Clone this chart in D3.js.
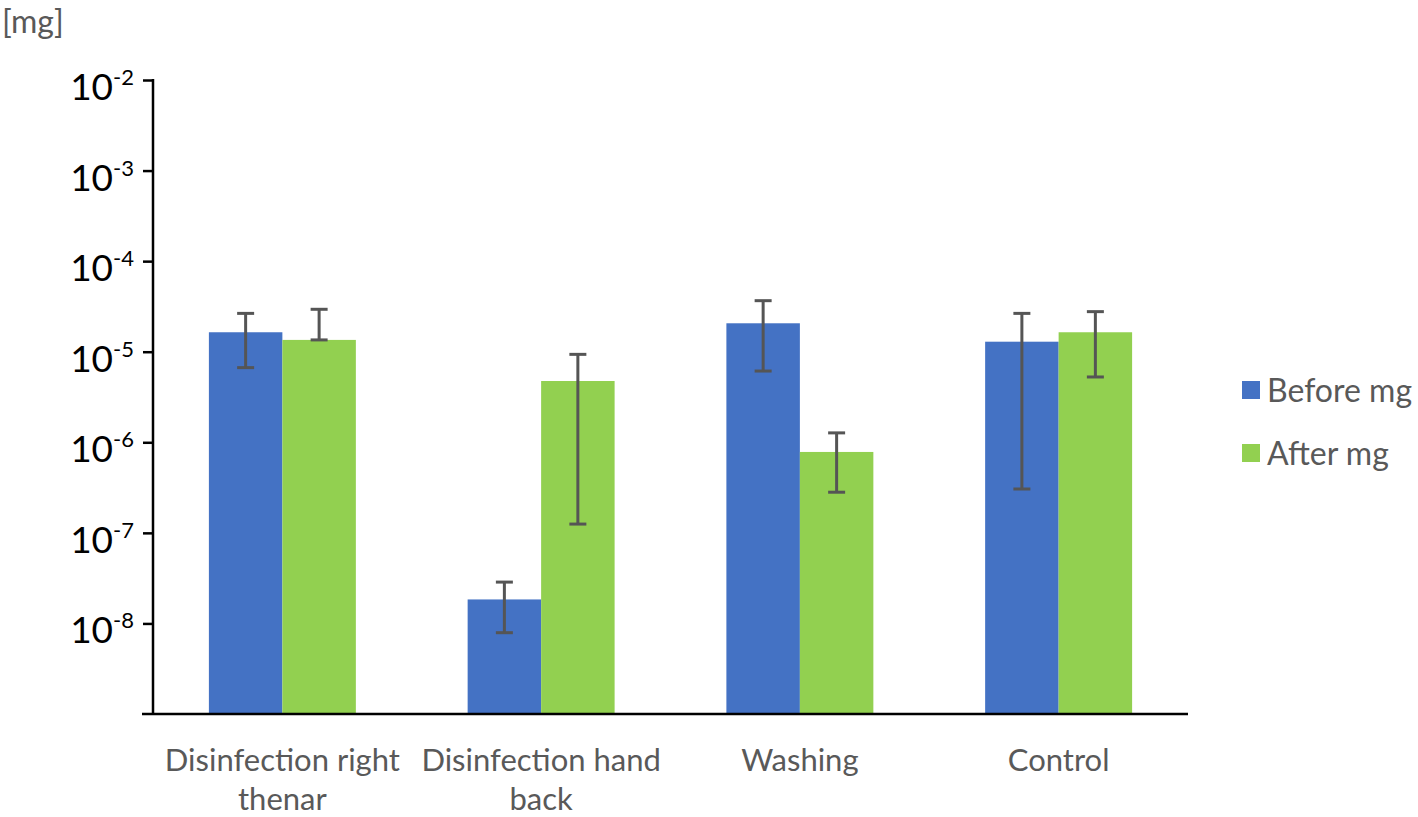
<!DOCTYPE html>
<html>
<head>
<meta charset="utf-8">
<script src="https://cdn.jsdelivr.net/npm/d3@7"></script>
<style>
  html, body { margin: 0; padding: 0; background: #fff; }
  svg { display: block; }
  text { font-family: Lato, "Open Sans", sans-serif; }
</style>
</head>
<body>
<svg id="chart" width="1418" height="817"></svg>
<script>
const categories = [["Disinfection right", "thenar"], ["Disinfection hand", "back"], ["Washing"], ["Control"]];
const seriesNames = ["Before mg", "After mg"];
const beforeValues = [1.64e-5, 1.84e-8, 2.06e-5, 1.29e-5];
const beforeHigh   = [2.65e-5, 2.86e-8, 3.66e-5, 2.65e-5];
const beforeLow    = [6.67e-6, 7.9e-9, 6.12e-6, 3.05e-7];
const afterValues  = [1.35e-5, 4.75e-6, 7.82e-7, 1.64e-5];
const afterHigh    = [2.94e-5, 9.35e-6, 1.27e-6, 2.77e-5];
const afterLow     = [1.35e-5, 1.25e-7, 2.81e-7, 5.26e-6];
const tickExponents = [-2, -3, -4, -5, -6, -7, -8];
const unitLabel = "[mg]";
const colors = ["#4472C4", "#92D050"];

const svg = d3.select("#chart");
const plotLeft = 153, plotRight = 1188, plotTop = 80, plotBottom = 714;

const x0 = d3.scaleBand().domain(d3.range(categories.length)).range([plotLeft, plotRight]).paddingInner(0.432).paddingOuter(0.216);
const x1 = d3.scaleBand().domain([0, 1]).range([0, x0.bandwidth()]);
const y = d3.scaleLog().domain([1e-9, 1e-2]).range([plotBottom, plotTop]);

const series = [
  {name: seriesNames[0], values: beforeValues, hi: beforeHigh, lo: beforeLow, color: colors[0]},
  {name: seriesNames[1], values: afterValues, hi: afterHigh, lo: afterLow, color: colors[1]}
];

// bars
series.forEach((s, si) => {
  svg.append("g").selectAll("rect").data(s.values).join("rect")
    .attr("x", (d, i) => x0(i) + x1(si))
    .attr("width", x1.bandwidth())
    .attr("y", d => y(d))
    .attr("height", d => plotBottom - y(d))
    .attr("fill", s.color);
});

// error bars
series.forEach((s, si) => {
  const g = svg.append("g").attr("stroke", "#555555").attr("stroke-width", 3);
  s.values.forEach((v, i) => {
    const cx = x0(i) + x1(si) + x1.bandwidth() / 2;
    g.append("line").attr("x1", cx).attr("x2", cx).attr("y1", y(s.hi[i])).attr("y2", y(s.lo[i]));
    g.append("line").attr("x1", cx - 8.5).attr("x2", cx + 8.5).attr("y1", y(s.hi[i])).attr("y2", y(s.hi[i]));
    g.append("line").attr("x1", cx - 8.5).attr("x2", cx + 8.5).attr("y1", y(s.lo[i])).attr("y2", y(s.lo[i]));
  });
});

// y axis
const yAxis = d3.axisLeft(y).tickValues(tickExponents.map(e => Math.pow(10, e))).tickSize(10).tickFormat("");
const yg = svg.append("g").attr("transform", `translate(${plotLeft},0)`).call(yAxis);
yg.select(".domain").remove();
yg.selectAll(".tick line").attr("stroke", "#000").attr("stroke-width", 2.5);
svg.append("line").attr("x1", plotLeft).attr("x2", plotLeft).attr("y1", plotTop - 1).attr("y2", plotBottom).attr("stroke", "#000").attr("stroke-width", 2.5);
svg.append("line").attr("x1", plotLeft - 11).attr("x2", plotRight).attr("y1", plotBottom).attr("y2", plotBottom).attr("stroke", "#000").attr("stroke-width", 2.5);

// tick labels with superscripts
tickExponents.forEach(e => {
  const t = svg.append("text").attr("x", 134).attr("y", y(Math.pow(10, e)) + 20)
    .attr("text-anchor", "end").attr("fill", "#000");
  t.append("tspan").attr("font-size", 37).text("10");
  t.append("tspan").attr("font-size", 22).attr("dy", -15).text(String(e));
});

// unit label
svg.append("text").attr("x", 2).attr("y", 33).attr("font-size", 32).attr("fill", "#595959").text(unitLabel);

// category labels
categories.forEach((lines, i) => {
  const cx = x0(i) + x0.bandwidth() / 2;
  const t = svg.append("text").attr("text-anchor", "middle").attr("fill", "#595959").attr("font-size", 31);
  lines.forEach((ln, li) => {
    t.append("tspan").attr("x", cx).attr("y", 771 + li * 39).text(ln);
  });
});

// legend
series.forEach((s, si) => {
  const ly = 381 + si * 63;
  svg.append("rect").attr("x", 1242).attr("y", ly).attr("width", 18).attr("height", 18).attr("fill", s.color);
  svg.append("text").attr("x", 1267).attr("y", ly + 21).attr("font-size", 32).attr("fill", "#595959").text(s.name);
});
</script>
</body>
</html>
